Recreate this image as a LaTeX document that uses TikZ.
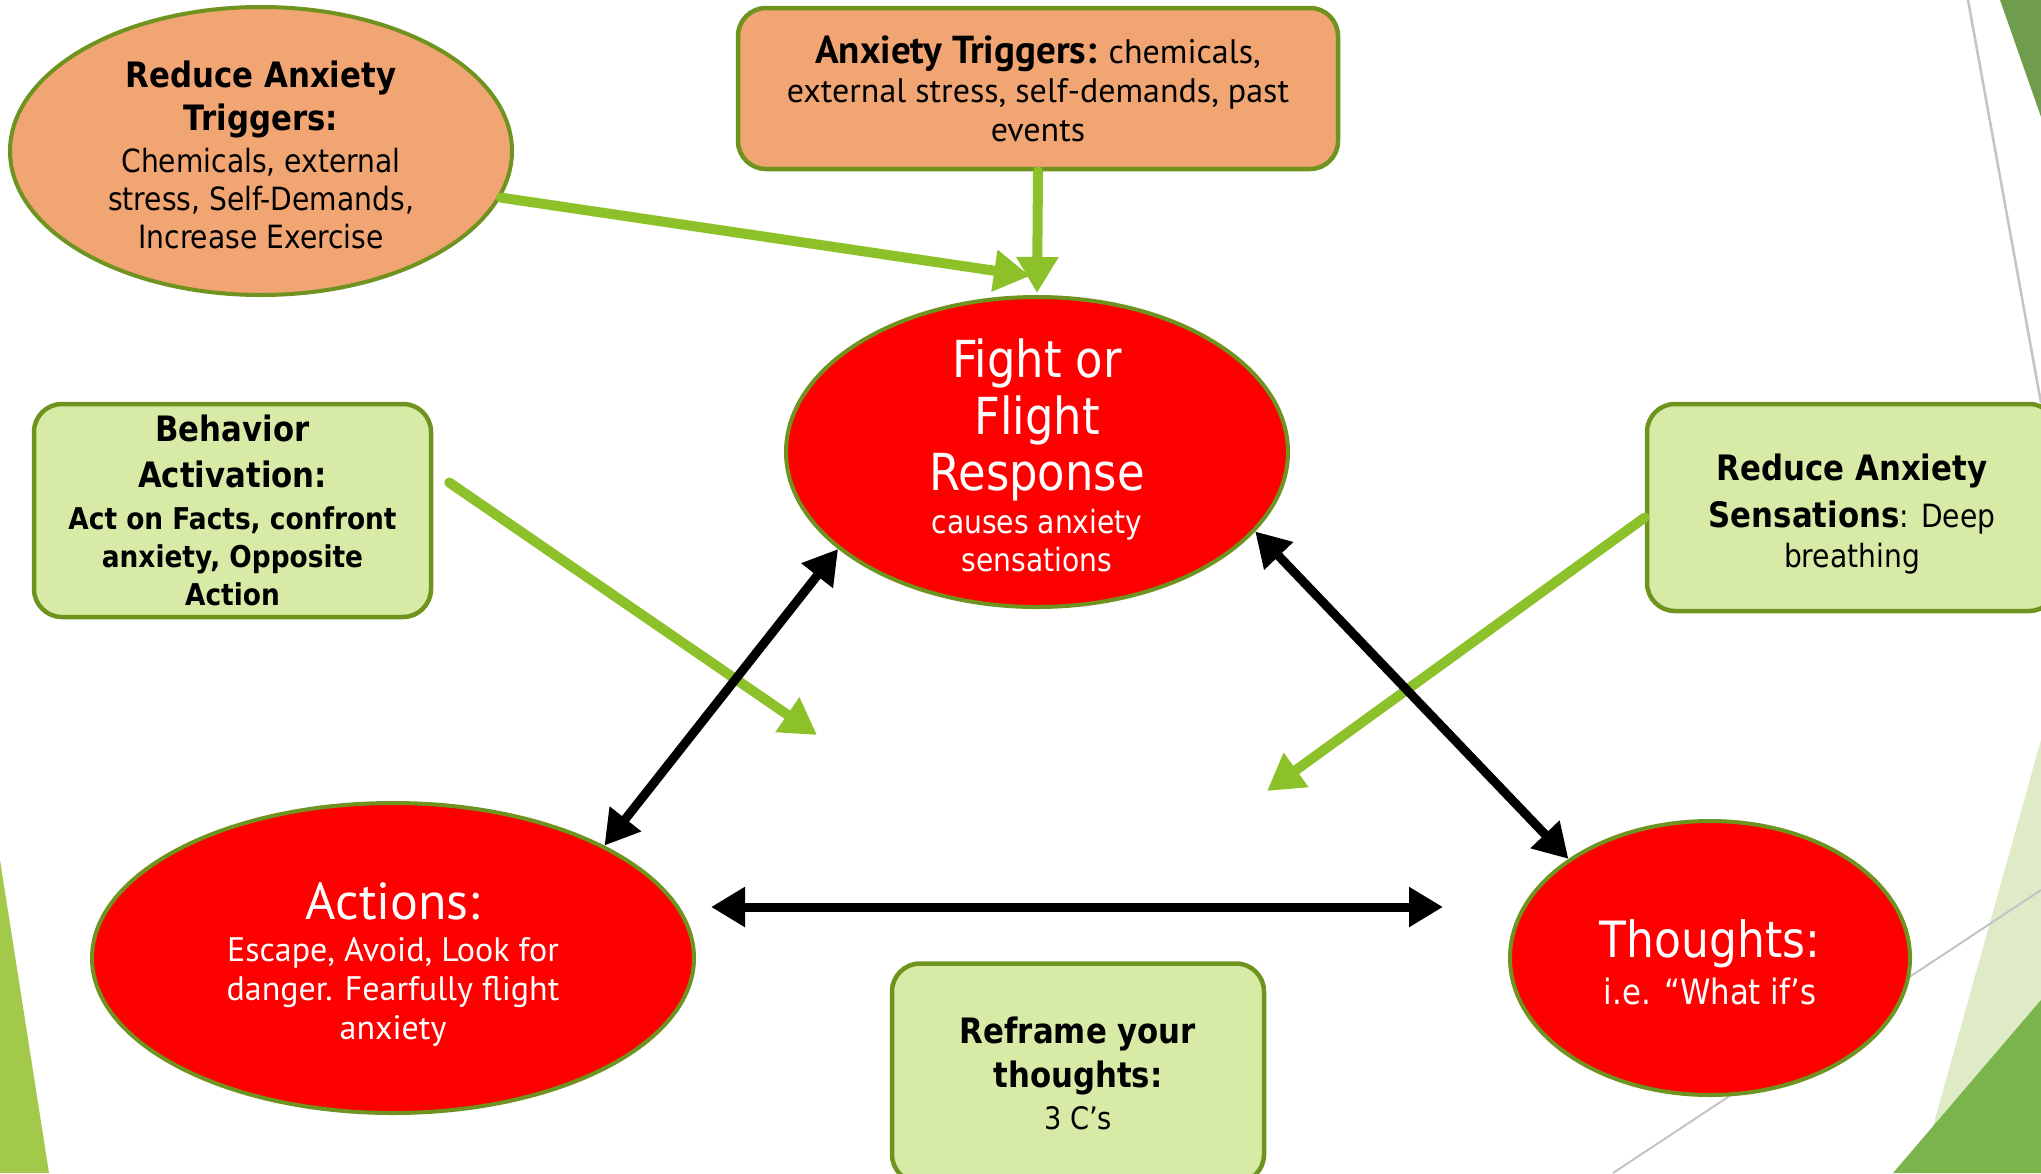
\documentclass[tikz,border=0pt]{standalone}
\usepackage{fontspec}
\setmainfont{DejaVu Sans}[FakeStretch=0.88]
\newfontfamily\condf{PT Sans}
\usetikzlibrary{arrows.meta,shapes.geometric}
\definecolor{salmon}{HTML}{F0A572}
\definecolor{lgreen}{HTML}{D7EBA6}
\definecolor{bord}{HTML}{6E931F}
\definecolor{agreen}{HTML}{8CC12A}
\definecolor{leftg}{HTML}{A3C94A}
\definecolor{trdark}{HTML}{6F9D4D}
\definecolor{brlight}{HTML}{DEEBC6}
\definecolor{brdark}{HTML}{7BB34D}
\definecolor{grayln}{HTML}{C4C4C4}
\newcommand\hdrA{\bfseries\fontsize{35}{38}\selectfont}
\newcommand\bigH{\fontsize{51}{38}\selectfont}
\newcommand\lift[1]{\rule{0pt}{#1pt}}
\begin{document}
\begin{tikzpicture}[x=1pt,y=-1pt,
  oval/.style={ellipse, draw=bord, line width=4pt, inner sep=-40pt, align=center},
  rbox/.style={rectangle, rounded corners=28pt, draw=bord, line width=4.5pt, inner sep=0pt, align=center},
  garrow/.style={draw=agreen, line width=10pt, line cap=round, -{Triangle[length=36pt,width=40pt]}},
  barrow/.style={draw=black, line width=9pt, {Triangle[length=34pt,width=38pt]}-{Triangle[length=34pt,width=38pt]}},
  bodyf/.style={font={\lineskiplimit=-200pt\fontsize{32}{#1}\selectfont}},
  condbody/.style={font={\lineskiplimit=-200pt\condf\fontsize{34}{#1}\selectfont}}
]
\clip (0,0) rectangle (2041,1173);
\fill[white] (0,0) rectangle (2041,1173);
% background decoration
\fill[leftg] (0,860) -- (49,1173) -- (0,1173) -- cycle;
\fill[trdark] (2000,0) -- (2041,0) -- (2041,117) -- cycle;
\draw[grayln, line width=2.5pt] (1968,0) -- (2041,403);
\fill[brlight] (2041,740) -- (2041,1173) -- (1920,1173) -- cycle;
\fill[brdark] (2041,1000) -- (2041,1173) -- (1893,1173) -- cycle;
\draw[grayln, line width=2pt] (1613,1173) -- (2041,890);

% nodes
\node[oval, fill=salmon, minimum width=502pt, minimum height=288pt, bodyf=38] (rat) at (261,151)
  {{\hdrA\lift{35}Reduce Anxiety}\\[5pt]{\hdrA Triggers:}\\[4pt]Chemicals, external\\stress, Self-Demands,\\Increase Exercise};
\node[rbox, fill=salmon, minimum width=600pt, minimum height=161pt, condbody=39] (at) at (1038,88.5)
  {{\bfseries\fontsize{39}{39}\selectfont Anxiety Triggers:} chemicals,\\external stress, self-demands, past\\events};
\node[oval, fill=red, text=white, minimum width=502pt, minimum height=310pt, bodyf=38] (fight) at (1037,452)
  {{\bigH\lift{46}Fight or}\\[19pt]{\bigH Flight}\\[18pt]{\bigH Response}\\[5pt]causes anxiety\\sensations};
\node[rbox, fill=lgreen, minimum width=397pt, minimum height=213pt, font={\lineskiplimit=-200pt\bfseries\fontsize{30}{38}\selectfont}] (ba) at (232.5,510.5)
  {{\fontsize{35}{38}\selectfont Behavior}\\[8pt]{\fontsize{35}{38}\selectfont Activation:}\\[4pt]Act on Facts, confront\\anxiety, Opposite\\Action};
\node[rbox, fill=lgreen, minimum width=410pt, minimum height=207pt, bodyf=40] (rs) at (1852,507.5)
  {{\hdrA\lift{39}Reduce Anxiety}\\[7pt]{\hdrA Sensations}: Deep\\breathing};
\node[oval, fill=red, text=white, minimum width=602pt, minimum height=310pt, font={\lineskiplimit=-200pt\condf\fontsize{34}{39}\selectfont}] (act) at (393,958)
  {{\fontsize{52}{39}\selectfont\lift{50}Actions:}\\[3pt]Escape, Avoid, Look for\\danger. Fearfully flight\\anxiety};
\node[oval, fill=red, text=white, minimum width=400pt, minimum height=274pt, font={\lineskiplimit=-200pt\fontsize{35}{47}\selectfont}] (th) at (1710,958)
  {{\fontsize{50}{47}\selectfont\lift{46}Thoughts:}\\i.e. “What if’s};
\node[rbox, fill=lgreen, minimum width=372pt, minimum height=219pt, font={\lineskiplimit=-200pt\fontsize{31}{42}\selectfont}] (rf) at (1078,1073)
  {{\hdrA Reframe your}\\[2pt]{\hdrA thoughts:}\\3 C’s};

% connectors
\coordinate (b2) at (817,735);
\coordinate (s2) at (1267,791);
\draw[garrow] (rat.-11) -- ([shift={(-7pt,19pt)}]fight.north);
\draw[garrow, shorten >=2pt] (at.south) -- (fight.north);
\draw[garrow] ([shift={(16pt,28pt)}]ba.east) -- (b2);
\draw[garrow] ([yshift=-10pt]rs.west) -- (s2);
\draw[barrow] (fight.206) -- (act.28);
\draw[barrow] (fight.340) -- (th.145);
\draw[barrow] ([shift={(15pt,51pt)}]act.east) -- ([shift={(-65pt,51pt)}]th.west);
\end{tikzpicture}
\end{document}
